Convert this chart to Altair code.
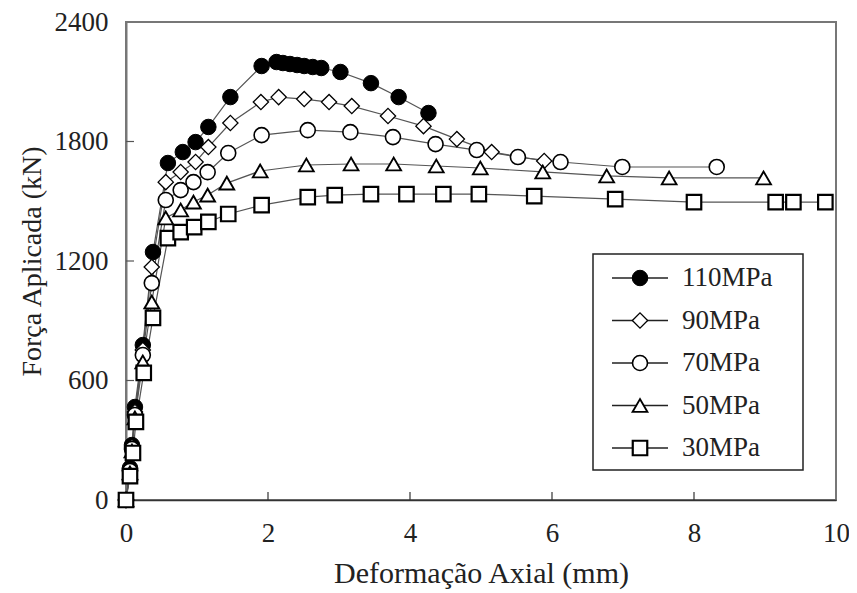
import altair as alt
import pandas as pd

series = ["110MPa", "90MPa", "70MPa", "50MPa", "30MPa"]

x110 = [0, 0.056, 0.084, 0.126, 0.237, 0.38, 0.59, 0.80, 0.98, 1.16, 1.47, 1.91, 2.12, 2.21, 2.31, 2.41, 2.51, 2.63, 2.75, 3.02, 3.45, 3.84, 4.26]
y110 = [0, 161, 276, 467, 778, 1245, 1692, 1747, 1797, 1873, 2023, 2179, 2199, 2194, 2189, 2184, 2179, 2174, 2169, 2149, 2093, 2023, 1943]
x90 = [0, 0.056, 0.084, 0.126, 0.237, 0.363, 0.56, 0.77, 0.98, 1.16, 1.47, 1.90, 2.15, 2.51, 2.86, 3.18, 3.69, 4.19, 4.66, 5.15, 5.89]
y90 = [0, 150, 266, 442, 753, 1170, 1596, 1647, 1697, 1772, 1893, 1998, 2023, 2013, 1998, 1978, 1928, 1877, 1812, 1747, 1702]
x70 = [0, 0.056, 0.084, 0.126, 0.237, 0.363, 0.56, 0.77, 0.95, 1.15, 1.44, 1.91, 2.56, 3.16, 3.76, 4.36, 4.94, 5.52, 6.12, 6.99, 8.32]
y70 = [0, 146, 256, 427, 728, 1089, 1506, 1556, 1596, 1646, 1742, 1832, 1857, 1847, 1822, 1787, 1757, 1722, 1697, 1672, 1672]
x50 = [0, 0.056, 0.084, 0.126, 0.237, 0.363, 0.56, 0.77, 0.95, 1.15, 1.42, 1.89, 2.54, 3.17, 3.77, 4.37, 4.99, 5.87, 6.77, 7.65, 8.98]
y50 = [0, 136, 246, 412, 693, 994, 1416, 1456, 1496, 1531, 1591, 1652, 1682, 1687, 1687, 1677, 1667, 1647, 1627, 1617, 1617]
x30 = [0, 0.056, 0.098, 0.14, 0.25, 0.38, 0.59, 0.77, 0.96, 1.16, 1.44, 1.91, 2.56, 2.94, 3.45, 3.95, 4.47, 4.97, 5.75, 6.89, 8.0, 9.15, 9.4, 9.85]
y30 = [0, 120, 236, 392, 638, 914, 1315, 1345, 1370, 1396, 1436, 1481, 1521, 1531, 1536, 1536, 1536, 1536, 1526, 1511, 1496, 1496, 1496, 1496]

x_ticks = [2, 4, 6, 8]
y_ticks = [600, 1200, 1800]

rows = []
for name, xs, ys in [("110MPa", x110, y110), ("90MPa", x90, y90), ("70MPa", x70, y70),
                     ("50MPa", x50, y50), ("30MPa", x30, y30)]:
    for i, (a, b) in enumerate(zip(xs, ys)):
        rows.append({"serie": name, "idx": i, "x": a, "y": b})
df = pd.DataFrame(rows)
legend_df = pd.DataFrame({"serie": series})

FONT = "Liberation Serif"
W, H = 710, 478

xscale = alt.Scale(domain=[0, 10], nice=False)
yscale = alt.Scale(domain=[0, 2400], nice=False)

xenc = alt.X("x:Q", scale=xscale,
             axis=alt.Axis(values=[0, 2, 4, 6, 8, 10], format="d", title="Deformação Axial (mm)",
                           ticks=False, labelPadding=20, titlePadding=12, labelFlush=False,
                           titleFontSize=30, domainColor="#333", domainWidth=1.5))
yenc = alt.Y("y:Q", scale=yscale,
             axis=alt.Axis(values=[0, 600, 1200, 1800, 2400], format="d", title="Força Aplicada (kN)",
                           ticks=False, labelPadding=18, titlePadding=8, labelFlush=False,
                           titleFontSize=28, domainColor="#777", domainWidth=2))

shape_enc = alt.Shape("serie:N", scale=alt.Scale(domain=series,
                      range=["circle", "diamond", "circle", "triangle-up", "square"]), legend=None)
fill_enc = alt.Fill("serie:N", scale=alt.Scale(domain=series,
                    range=["black", "white", "white", "white", "white"]), legend=None)
size_enc = alt.Size("serie:N", scale=alt.Scale(domain=series,
                    range=[240, 210, 250, 260, 250]), legend=None)
sw_enc = alt.StrokeWidth("serie:N", scale=alt.Scale(domain=series,
                         range=[1, 2.2, 2.4, 2.6, 2.9]), legend=None)

lines = alt.Chart(df).mark_line(color="#555", strokeWidth=1.2).encode(
    x=xenc, y=yenc, detail="serie:N", order="idx:Q")

points = alt.Chart(df).mark_point(filled=True, stroke="black", opacity=1).encode(
    x="x:Q", y="y:Q", shape=shape_enc, fill=fill_enc, size=size_enc, strokeWidth=sw_enc)

x_tick_layer = alt.Chart(pd.DataFrame({"t": x_ticks})).mark_rule(color="#333", strokeWidth=1.2).encode(
    x="t:Q", y=alt.value(H), y2=alt.value(H - 8))
y_tick_layer = alt.Chart(pd.DataFrame({"t": y_ticks})).mark_rule(color="#555", strokeWidth=1.2).encode(
    y="t:Q", x=alt.value(0), x2=alt.value(8))

main = alt.layer(lines, points, x_tick_layer, y_tick_layer)

# legend drawn with its own row scale
ly = alt.Y("serie:N", scale=alt.Scale(type="point", domain=series, range=[256, 426], padding=0), axis=None)

leg_box = alt.Chart(pd.DataFrame({"b": [0]})).mark_rect(fill="white", stroke="#222", strokeWidth=1.5).encode(
    x=alt.value(467), x2=alt.value(677), y=alt.value(232), y2=alt.value(448))
leg_lines = alt.Chart(legend_df).mark_rule(color="#222", strokeWidth=1.5).encode(
    y=ly, x=alt.value(486), x2=alt.value(542))
leg_pts = alt.Chart(legend_df).mark_point(filled=True, stroke="black", opacity=1).encode(
    y=ly, x=alt.value(514), shape=shape_enc, fill=fill_enc, size=size_enc, strokeWidth=sw_enc)
leg_txt = alt.Chart(legend_df).mark_text(align="left", baseline="middle", font=FONT,
                                         fontSize=27, color="#222").encode(
    y=ly, x=alt.value(556), text="serie:N")

legend = alt.layer(leg_box, leg_lines, leg_pts, leg_txt)

chart = alt.layer(main, legend).resolve_scale(y="independent").properties(
    width=W, height=H,
    autosize=alt.AutoSizeParams(type="none"),
    padding={"left": 118, "top": 14, "right": 13, "bottom": 90},
).configure_view(stroke="#777", strokeWidth=2).configure_axis(
    labelFont=FONT, labelFontSize=27, labelColor="#222",
    titleFont=FONT, titleColor="#222", titleFontWeight="normal",
    grid=False,
)

chart.save("out.html", embed_options={"renderer": "svg", "actions": False})
